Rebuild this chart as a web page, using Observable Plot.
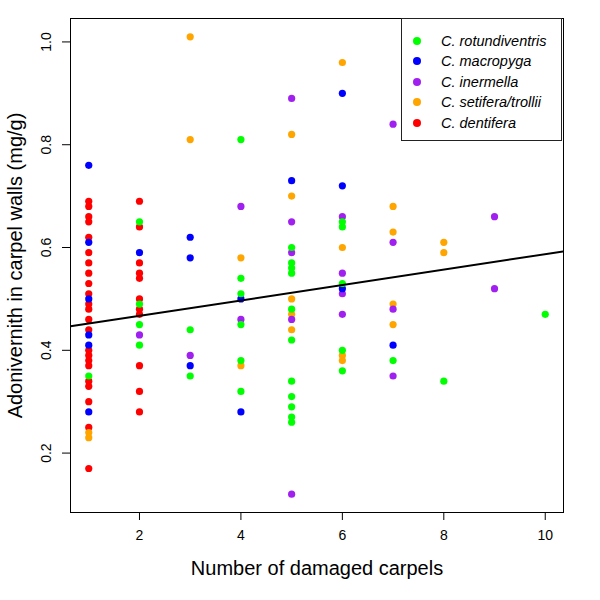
<!DOCTYPE html>
<html>
<head>
<meta charset="utf-8">
<script src="https://cdn.jsdelivr.net/npm/d3@7"></script>
<script src="https://cdn.jsdelivr.net/npm/@observablehq/plot@0.6"></script>
<style>
  html, body { margin: 0; padding: 0; background: #fff; }
  #wrap { position: relative; width: 600px; height: 600px; font-family: "Liberation Sans", Arial, sans-serif; }
  #legend { position: absolute; left: 401px; top: 18px; width: 161px; height: 123px; border: 1px solid #222; box-sizing: border-box; background: #fff; }
  .row { position: absolute; left: 0; height: 20px; display: flex; align-items: center; }
  .sw { position: absolute; left: 11px; width: 8px; height: 8px; border-radius: 50%; }
  .lab { position: absolute; left: 39px; font-style: italic; font-size: 14.5px; white-space: nowrap; color: #000; }
</style>
</head>
<body>
<div id="wrap"><div id="chart"></div><div id="legend"></div></div>
<script>
// Species names and colours
const species = ["C. rotundiventris", "C. macropyga", "C. inermella", "C. setifera/trollii", "C. dentifera"];
const colors = ["#00ff00", "#0000ff", "#a020f0", "#ffa500", "#ff0000"];

// Data: [number of damaged carpels, adonivernith mg/g]
const rotundiventris = [
  [1,0.35],
  [2,0.65],[2,0.49],[2,0.45],[2,0.41],
  [3,0.44],[3,0.35],
  [4,0.81],[4,0.54],[4,0.51],[4,0.45],[4,0.38],[4,0.32],
  [5,0.60],[5,0.57],[5,0.56],[5,0.55],[5,0.48],[5,0.42],[5,0.34],[5,0.31],[5,0.29],[5,0.27],[5,0.26],
  [6,0.65],[6,0.64],[6,0.53],[6,0.40],[6,0.36],
  [7,0.38],
  [8,0.34],
  [10,0.47]
];
const macropyga = [
  [1,0.76],[1,0.61],[1,0.50],[1,0.43],[1,0.41],[1,0.28],
  [2,0.59],
  [3,0.62],[3,0.58],[3,0.37],
  [4,0.50],[4,0.28],
  [5,0.73],
  [6,0.90],[6,0.72],[6,0.52],
  [7,0.41]
];
const inermella = [
  [2,0.43],
  [3,0.39],
  [4,0.68],[4,0.46],
  [5,0.89],[5,0.65],[5,0.59],[5,0.46],[5,0.12],
  [6,0.66],[6,0.55],[6,0.51],[6,0.47],
  [7,0.84],[7,0.61],[7,0.48],[7,0.35],
  [9,0.66],[9,0.52]
];
const setifera = [
  [1,0.24],[1,0.23],
  [3,1.01],[3,0.81],
  [4,0.58],[4,0.37],
  [5,0.82],[5,0.70],[5,0.50],[5,0.47],[5,0.44],
  [6,0.96],[6,0.60],[6,0.39],[6,0.38],
  [7,0.68],[7,0.63],[7,0.49],[7,0.45],
  [8,0.61],[8,0.59]
];
const dentifera = [
  [1,0.69],[1,0.68],[1,0.66],[1,0.65],[1,0.62],[1,0.59],[1,0.57],[1,0.55],[1,0.53],[1,0.51],
  [1,0.49],[1,0.48],[1,0.46],[1,0.44],[1,0.40],[1,0.39],[1,0.38],[1,0.37],[1,0.34],[1,0.33],
  [1,0.30],[1,0.25],[1,0.17],
  [2,0.69],[2,0.64],[2,0.57],[2,0.55],[2,0.54],[2,0.50],[2,0.48],[2,0.47],[2,0.37],[2,0.32],[2,0.28]
];

// Fitted line coefficients
const fitIntercept = 0.437;
const fitSlope = 0.015;

// Axis ticks
const xTicks = [2, 4, 6, 8, 10];
const yTicks = [0.2, 0.4, 0.6, 0.8, 1.0];

const seriesArrays = [rotundiventris, macropyga, inermella, setifera, dentifera];
const table = [];
// drawing order: dentifera first, rotundiventris last
[4, 3, 2, 1, 0].forEach(i => {
  seriesArrays[i].forEach(([x, y]) => table.push({x, y, sp: species[i]}));
});

const allX = table.map(d => d.x), allY = table.map(d => d.y);
const pad = (lo, hi) => [lo - 0.04 * (hi - lo), hi + 0.04 * (hi - lo)];
const xDom = pad(d3.min(allX), d3.max(allX));
const yDom = pad(d3.min(allY), d3.max(allY));
const fitLine = xDom.map(x => ({x, y: fitIntercept + fitSlope * x}));

const plot = Plot.plot({
  width: 600,
  height: 600,
  marginLeft: 70,
  marginRight: 37,
  marginTop: 18,
  marginBottom: 88,
  style: {fontFamily: "'Liberation Sans', Arial, sans-serif", background: "#fff", color: "#000"},
  x: {domain: xDom},
  y: {domain: yDom},
  color: {domain: species, range: colors},
  marks: [
    Plot.axisX({ticks: xTicks, tickSize: 8, label: null, text: null}),
    Plot.text(xTicks, {x: d => d, frameAnchor: "bottom", dy: 27, text: d3.format("d"), fontSize: 14, fill: "#000", textAnchor: "middle"}),
    Plot.axisY({ticks: yTicks, tickSize: 8, text: null, label: null}),
    Plot.text(yTicks, {y: d => d, frameAnchor: "left", dx: -24, rotate: -90, text: d3.format(".1f"), fontSize: 14, fill: "#000", textAnchor: "middle"}),
    Plot.dot(table, {x: "x", y: "y", fill: "sp", r: 3.6, stroke: null}),
    Plot.line(fitLine, {x: "x", y: "y", stroke: "#000", strokeWidth: 2, clip: true}),
    Plot.frame({stroke: "#000", strokeWidth: 1}),
    Plot.text(["Number of damaged carpels"], {frameAnchor: "bottom", dy: 62, fontSize: 20, fill: "#000", textAnchor: "middle"}),
    Plot.text(["Adonivernith in carpel walls (mg/g)"], {frameAnchor: "left", dx: -55, rotate: -90, fontSize: 20, fill: "#000", textAnchor: "middle"})
  ]
});
document.getElementById("chart").appendChild(plot);

const legend = document.getElementById("legend");
species.forEach((s, i) => {
  const row = document.createElement("div");
  row.className = "row";
  row.style.top = (11.5 + i * 20.6) + "px";
  const sw = document.createElement("div");
  sw.className = "sw";
  sw.style.background = colors[i];
  const lab = document.createElement("div");
  lab.className = "lab";
  lab.textContent = s;
  row.appendChild(sw);
  row.appendChild(lab);
  legend.appendChild(row);
});
</script>
</body>
</html>
